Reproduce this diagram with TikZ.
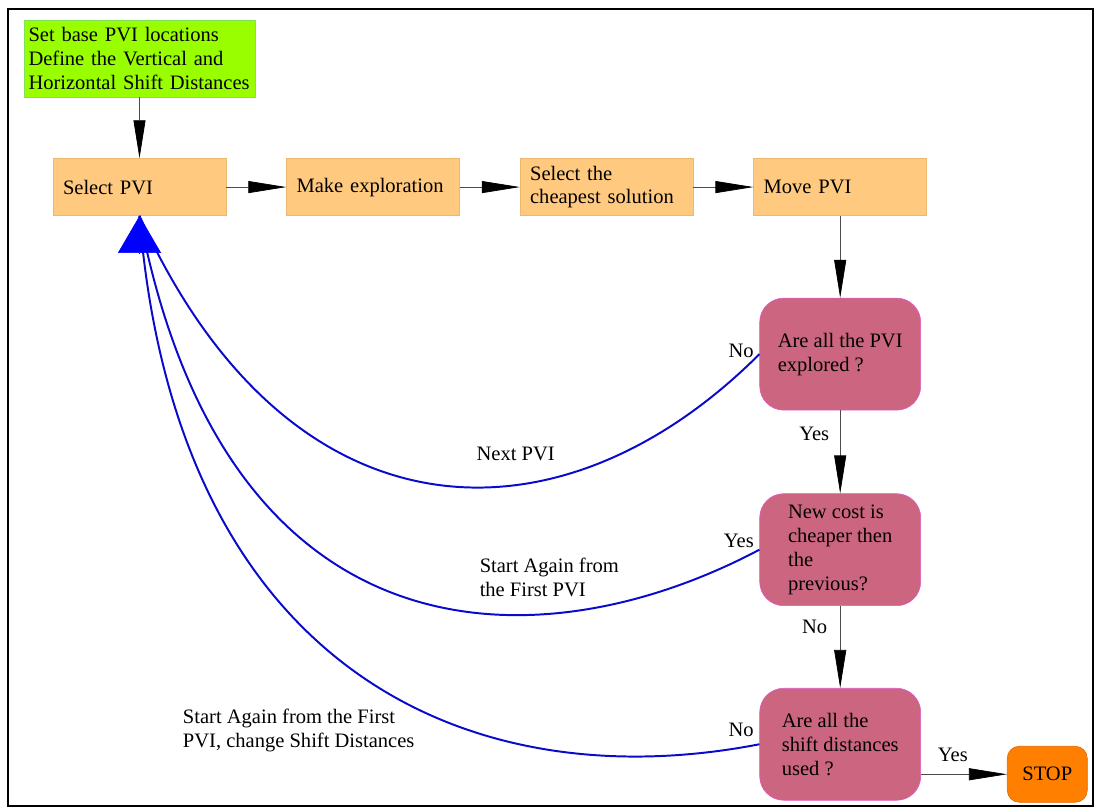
\documentclass[tikz,border=0pt]{standalone}
\usepackage{fontspec}
\setmainfont{Liberation Serif}
\usepackage{tikz}
\usetikzlibrary{arrows.meta,positioning}

\definecolor{setfill}{RGB}{153,255,0}
\definecolor{setline}{RGB}{130,225,90}
\definecolor{procfill}{RGB}{255,202,128}
\definecolor{procline}{RGB}{236,184,112}
\definecolor{askfill}{RGB}{204,102,128}
\definecolor{askline}{RGB}{226,88,196}
\definecolor{stopfill}{RGB}{255,128,0}
\definecolor{stopline}{RGB}{224,100,0}
\definecolor{loopblue}{RGB}{10,10,205}

\begin{document}
\begin{tikzpicture}[
  every node/.style={font=\fontsize{14.6}{17}\selectfont},
  setbox/.style={draw=setline,fill=setfill,minimum height=1.925cm,text width=5.55cm,inner xsep=0.1125cm,align=left},
  procbox/.style={draw=procline,fill=procfill,minimum height=1.425cm,text width=3.825cm,inner xsep=0.25cm,align=left},
  askbox/.style={draw=askline,fill=askfill,rounded corners=0.6cm,minimum width=4.025cm,minimum height=2.8cm,align=left},
  stopbox/.style={draw=stopline,fill=stopfill,rounded corners=0.3cm,minimum width=2cm,minimum height=1.4cm},
  arr/.style={draw=gray!60!black,line width=0.5pt,-{Triangle[length=0.95cm,width=0.3cm,color=black]}},
  backarr/.style={draw=loopblue,line width=1.4pt},
  bigtip/.style={draw=blue,line width=0.4pt,-{Triangle[length=0.925cm,width=1.075cm]}}
]
\useasboundingbox (0,0) rectangle (27.4,-20.2);
\draw[line width=0.8pt] (0.2,-0.225) rectangle (27.325,-20.15);

% main row
\node[setbox] (base) at (3.4875,-1.4625) {Set base PVI locations\\Define the Vertical and\\Horizontal Shift Distances};
\node[procbox, below=1.525cm of base] (sel)   {Select PVI};
\node[procbox, right=1.5cm of sel]    (expl)  {Make exploration};
\node[procbox, right=1.5cm of expl]   (cheap) {Select the\\cheapest solution};
\node[procbox, right=1.5cm of cheap]  (move)  {Move PVI};

% checks
\node[askbox, below=2.05cm of move]  (q1) {Are all the PVI\\explored ?};
\node[askbox, below=2.075cm of q1]   (q2) {New cost is\\cheaper then\\the\\previous?};
\node[askbox, below=2.05cm of q2]    (q3) {Are all the\\shift distances\\used ?};
\node[stopbox, right=2.15cm of q3, yshift=-0.75cm] (stop) {STOP};

\draw[arr] (base) -- (sel);
\draw[arr] (sel) -- (expl);
\draw[arr] (expl) -- (cheap);
\draw[arr] (cheap) -- (move);
\draw[arr] (move) -- (q1);
\draw[arr] (q1) -- node[pos=0.28,left,xshift=-0.15cm]{Yes} (q2);
\draw[arr] (q2) -- node[pos=0.26,left,xshift=-0.2cm]{No} (q3);
\draw[arr] (q3.east |- stop.west) -- node[pos=0.37,above,yshift=0.2cm]{Yes} (stop.west);

% loops back to Select PVI
\draw[backarr] (q1.west) .. controls +(-5,-5) and +(3.725,-8.25) .. (sel.south)
  node[pos=0,left,yshift=0.075cm]{No}
  node[pos=0.4,xshift=0.45cm,yshift=0.825cm]{Next PVI};
\draw[backarr] (q2.west) .. controls +(-5.525,-2.925) and +(2.15,-11.25) .. (sel.south)
  node[pos=0,left,yshift=0.225cm]{Yes}
  node[pos=0.3,xshift=0.125cm,yshift=0.925cm,align=left]{Start Again from\\the First PVI};
\draw[backarr] (q3.west) .. controls +(-7.35,-1.425) and +(0.9,-11.25) .. (sel.south)
  node[pos=0,left,yshift=0.35cm]{No}
  node[pos=0.5,xshift=-1.35cm,yshift=-1.5cm,align=left]{Start Again from the First\\PVI, change Shift Distances};
\coordinate[below=0.925cm of sel.south] (hub);
\draw[bigtip] (hub) -- (sel.south);
\end{tikzpicture}
\end{document}
